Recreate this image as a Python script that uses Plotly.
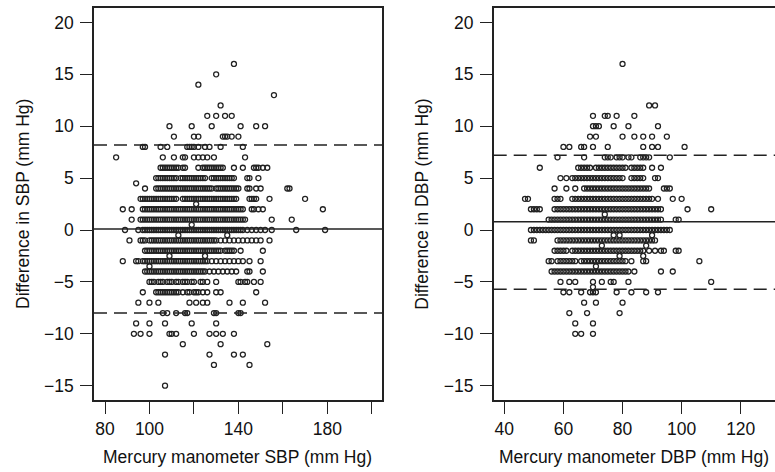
import plotly.graph_objects as go

# ---------------- data ----------------
# SBP panel: difference value -> list of mercury-manometer readings
sbp_rows = {
    16: [138],
    15: [130],
    14: [122],
    13: [156],
    12: [132],
    11: [126, 130, 134, 137],
    10: [109, 119, 128, 141, 148, 152],
    9: [111, 120, 122, 133, 134, 135, 137, 140],
    8: [97, 98, 105, 108, 117, 118, 119, 120, 122, 125, 127, 132, 142],
    7: [85, 106, 111, 115, 116, 120, 122, 124, 126, 129, 143],
    6: [105, 106, 107, 108, 109, 110, 111, 112, 113, 115, 116, 122, 124, 125, 126, 127, 128,
        129, 130, 131, 132, 133, 138, 142, 147, 148, 149, 151, 153],
    5: [103, 104, 105, 106, 107, 108, 109, 110, 111, 112, 114, 115, 116, 117, 118, 119, 120,
        121, 122, 123, 124, 125, 128, 129, 130, 131, 132, 133, 134, 135, 136, 137, 138, 144,
        145, 149],
    4.5: [94],
    4: [98, 103, 104, 105, 106, 107, 108, 109, 110, 111, 112, 113, 114, 115, 116, 117, 118,
        119, 120, 121, 122, 123, 124, 125, 126, 127, 128, 130, 131, 132, 133, 134, 135, 136,
        137, 138, 139, 140, 144, 145, 148, 150, 162, 163],
    3: [96, 97, 98, 99, 100, 101, 102, 103, 104, 105, 106, 107, 108, 109, 110, 111, 112, 115,
        116, 117, 118, 119, 120, 121, 122, 123, 124, 125, 126, 127, 128, 129, 130, 131, 132,
        133, 134, 135, 136, 137, 138, 139, 145, 146, 147, 148, 154, 170],
    2.5: [121],
    2: [88, 92, 97, 98, 99, 100, 101, 102, 103, 104, 105, 106, 107, 108, 109, 110, 111, 112,
        113, 114, 115, 116, 117, 118, 119, 120, 121, 122, 123, 124, 125, 126, 127, 128, 129,
        130, 131, 132, 133, 134, 135, 136, 137, 138, 139, 140, 141, 142, 146, 147, 149, 151,
        178],
    1: [92, 96, 97, 98, 99, 100, 101, 102, 103, 104, 105, 106, 107, 108, 109, 110, 111, 112,
        113, 114, 115, 116, 117, 118, 119, 120, 121, 122, 123, 124, 125, 126, 127, 128, 129,
        130, 131, 132, 133, 134, 135, 136, 137, 138, 139, 140, 141, 142, 143, 155, 164],
    0.5: [119],
    0: [89, 95, 97, 98, 99, 100, 101, 102, 103, 104, 105, 106, 107, 108, 109, 110, 111, 112,
        113, 114, 115, 116, 117, 118, 119, 120, 121, 122, 123, 124, 125, 126, 127, 128, 129,
        130, 131, 132, 133, 134, 135, 136, 137, 138, 139, 140, 141, 142, 144, 146, 148, 150,
        152, 155, 166, 179],
    -0.5: [113, 135],
    -1: [91, 96, 97, 98, 100, 101, 102, 103, 104, 105, 106, 107, 108, 109, 110, 111, 112, 113,
         114, 115, 116, 117, 118, 119, 120, 121, 122, 123, 124, 125, 126, 127, 128, 129, 130,
         132, 134, 136, 138, 140, 142, 144, 146, 148, 150, 154],
    -2: [98, 99, 100, 101, 102, 103, 104, 105, 106, 107, 108, 109, 110, 111, 112, 113, 114,
         115, 116, 117, 118, 119, 120, 121, 122, 123, 124, 125, 126, 127, 128, 129, 130, 131,
         132, 134, 135, 136, 137, 138, 141, 151],
    -2.5: [109, 125],
    -3: [88, 94, 95, 97, 98, 99, 100, 101, 102, 103, 104, 105, 106, 107, 108, 109, 110, 111,
         112, 113, 114, 115, 116, 117, 118, 119, 120, 121, 122, 123, 124, 125, 126, 128, 130,
         132, 134, 136, 138, 140, 142, 145, 150],
    -3.5: [100],
    -4: [98, 99, 100, 101, 102, 103, 104, 105, 106, 107, 108, 109, 110, 111, 112, 113, 114,
         115, 116, 117, 118, 119, 120, 121, 122, 123, 124, 125, 127, 129, 131, 133, 135, 137,
         139, 144, 145, 151],
    -5: [100, 101, 102, 104, 105, 106, 108, 109, 110, 112, 113, 115, 116, 117, 119, 120, 123,
         124, 126, 130, 140, 141, 143, 144, 147, 150],
    -6: [97, 103, 104, 105, 106, 107, 108, 109, 110, 111, 112, 113, 115, 117, 118, 120, 121,
         122, 124, 126, 130, 132, 148],
    -7: [95, 100, 104, 118, 121, 124, 126, 136, 142, 152],
    -8: [106, 108, 112, 116, 117, 129, 130, 140, 141],
    -9: [94, 100, 107, 119, 130],
    -10: [93, 96, 100, 109, 110, 112, 120, 127, 130, 133, 138],
    -11: [115, 132, 153],
    -12: [107, 127, 138, 142],
    -13: [129, 145],
    -15: [107],
}

# DBP panel: difference value -> list of mercury-manometer readings
dbp_rows = {
    16: [80],
    12: [89, 91],
    11: [70, 74, 75, 78, 84],
    10: [70, 71, 72, 77, 82, 92],
    9: [69, 71, 80, 84, 87, 90, 95],
    8: [60, 62, 66, 67, 70, 75, 87, 90, 92, 101],
    7: [58, 67, 74, 75, 76, 78, 79, 80, 82, 83, 86, 87, 88, 89, 96],
    6: [52, 65, 66, 67, 68, 69, 71, 72, 73, 74, 75, 76, 77, 78, 79, 80, 81, 83, 84, 85, 86,
        87, 90, 93],
    5: [59, 61, 63, 64, 65, 66, 67, 68, 69, 70, 71, 72, 73, 74, 75, 76, 77, 78, 79, 80, 83,
        84, 85, 86, 87, 91, 92],
    4: [57, 61, 64, 67, 68, 69, 70, 71, 72, 73, 74, 75, 76, 77, 78, 79, 80, 81, 82, 83, 84,
        85, 86, 87, 88, 89, 94, 95, 96],
    3: [47, 48, 57, 58, 59, 63, 64, 65, 66, 67, 68, 69, 70, 71, 72, 73, 74, 75, 76, 77, 78,
        79, 80, 81, 82, 83, 84, 85, 86, 87, 88, 89, 90, 92, 97, 100],
    2: [49, 50, 51, 52, 57, 58, 59, 60, 61, 62, 63, 64, 65, 66, 67, 68, 69, 70, 71, 72, 73,
        74, 75, 76, 77, 78, 79, 80, 81, 82, 83, 84, 85, 86, 87, 88, 89, 90, 91, 92, 93, 102,
        110],
    1.5: [74],
    1: [55, 56, 57, 58, 59, 60, 61, 62, 63, 64, 65, 66, 67, 68, 69, 70, 71, 72, 73, 74, 75,
        76, 77, 78, 79, 80, 81, 82, 83, 84, 85, 86, 87, 88, 89, 90, 91, 92, 93, 98, 99],
    0: [49, 50, 51, 52, 53, 54, 55, 56, 57, 58, 59, 60, 61, 62, 63, 64, 65, 66, 67, 68, 69,
        70, 71, 72, 73, 74, 75, 76, 77, 78, 79, 80, 81, 82, 83, 84, 85, 86, 87, 88, 89, 90,
        91, 92, 93, 94, 95, 96],
    -0.5: [77, 79, 90],
    -1: [49, 50, 58, 59, 60, 61, 62, 63, 64, 65, 66, 67, 68, 69, 70, 71, 72, 73, 74, 75, 76,
         77, 78, 79, 80, 81, 82, 83, 84, 85, 86, 87, 88, 89, 90, 91],
    -1.5: [73, 88],
    -2: [57, 58, 59, 60, 61, 63, 64, 65, 66, 67, 68, 69, 70, 71, 72, 73, 74, 75, 76, 77, 78,
         79, 80, 81, 82, 83, 84, 85, 86, 87, 89, 91, 93, 94, 98, 99],
    -2.5: [79, 87],
    -3: [55, 56, 58, 59, 60, 61, 62, 63, 64, 66, 67, 68, 69, 70, 71, 72, 73, 74, 75, 76, 77,
         78, 79, 80, 81, 83, 87, 88, 106],
    -3.5: [71],
    -4: [56, 57, 58, 59, 60, 61, 62, 63, 64, 65, 66, 67, 68, 69, 70, 71, 72, 73, 74, 75, 76,
         77, 78, 79, 80, 81, 82, 84, 93, 97],
    -5: [59, 62, 64, 70, 73, 76, 77, 82, 110],
    -5.5: [70],
    -6: [60, 62, 66, 69, 70, 71, 78, 83, 88, 92],
    -7: [67, 71, 80],
    -8: [62, 68, 79],
    -9: [64, 70],
    -10: [64, 66, 70],
}

# lower limit, mean difference, upper limit
sbp_lines = [-8.0, 0.1, 8.2]
dbp_lines = [-5.7, 0.8, 7.2]

sbp_ticks = [80, 100, 120, 140, 160, 180, 200]
sbp_ticktext = ["80", "100", "", "140", "", "180", ""]
dbp_ticks = [40, 60, 80, 100, 120]
y_ticks = [-15, -10, -5, 0, 5, 10, 15, 20]

x_title_sbp = "Mercury manometer SBP (mm Hg)"
x_title_dbp = "Mercury manometer DBP (mm Hg)"
y_title_sbp = "Difference in SBP (mm Hg)"
y_title_dbp = "Difference in DBP (mm Hg)"


def flatten(rows):
    xs, ys = [], []
    for d, vals in rows.items():
        for v in vals:
            xs.append(v)
            ys.append(d)
    return xs, ys


sx, sy = flatten(sbp_rows)
dx, dy = flatten(dbp_rows)

INK = "#222222"
FONT = "Liberation Sans, Arial, Helvetica, sans-serif"
FS = 17.5

fig = go.Figure()
marker = dict(symbol="circle-open", size=5, color=INK, line=dict(width=1.3, color=INK))
fig.add_trace(go.Scatter(x=sx, y=sy, mode="markers", marker=marker, xaxis="x", yaxis="y",
                         showlegend=False, hoverinfo="x+y"))
fig.add_trace(go.Scatter(x=dx, y=dy, mode="markers", marker=marker, xaxis="x2", yaxis="y2",
                         showlegend=False, hoverinfo="x+y"))

shapes = []
for ax, lines in (("", sbp_lines), ("2", dbp_lines)):
    for i, v in enumerate(lines):
        shapes.append(dict(type="line", xref=f"x{ax} domain", yref=f"y{ax}", x0=0, x1=1,
                           y0=v, y1=v,
                           line=dict(color=INK, width=1.5,
                                     dash="solid" if i == 1 else "13px,7px")))

W, H = 775, 472
ydom = [1 - 400 / H, 1 - 8 / H]

axis_common = dict(ticks="outside", ticklen=12, tickwidth=1.3, tickcolor=INK,
                   showline=True, linecolor=INK, linewidth=1.5, showgrid=False,
                   zeroline=False, tickfont=dict(family=FONT, size=FS, color="#111"))

fig.update_layout(
    width=W, height=H,
    margin=dict(l=0, r=0, t=0, b=0),
    paper_bgcolor="white", plot_bgcolor="white",
    xaxis=dict(domain=[94 / W, 382 / W], range=[75.05, 204.6], tickvals=sbp_ticks,
               ticktext=sbp_ticktext, mirror=True, anchor="y", **axis_common),
    yaxis=dict(domain=ydom, range=[-16.38, 21.39], tickvals=y_ticks, mirror=True,
               anchor="x", ticklabelstandoff=3, **axis_common),
    xaxis2=dict(domain=[493.7 / W, 1.0], range=[36.4, 131.6], tickvals=dbp_ticks,
                mirror=True, anchor="y2", **axis_common),
    yaxis2=dict(domain=ydom, range=[-16.38, 21.39], tickvals=y_ticks, mirror=False,
                anchor="x2", ticklabelstandoff=3, **axis_common),
    shapes=shapes,
    annotations=[
        dict(text=x_title_sbp, xref="paper", yref="paper", x=238 / W, y=1 - 457 / H,
             xanchor="center", yanchor="middle", showarrow=False,
             font=dict(family=FONT, size=FS, color="#111")),
        dict(text=x_title_dbp, xref="paper", yref="paper", x=634 / W, y=1 - 457 / H,
             xanchor="center", yanchor="middle", showarrow=False,
             font=dict(family=FONT, size=FS, color="#111")),
        dict(text=y_title_sbp, xref="paper", yref="paper", x=23 / W, y=1 - 204 / H,
             xanchor="center", yanchor="middle", textangle=-90, showarrow=False,
             font=dict(family=FONT, size=FS, color="#111")),
        dict(text=y_title_dbp, xref="paper", yref="paper", x=421.7 / W, y=1 - 204 / H,
             xanchor="center", yanchor="middle", textangle=-90, showarrow=False,
             font=dict(family=FONT, size=FS, color="#111")),
    ],
)

fig.write_html(
    "out.html",
    config={"displayModeBar": False},
    post_script="document.body.style.margin='0';document.body.style.padding='0';"
                "document.body.style.overflow='hidden';",
)
